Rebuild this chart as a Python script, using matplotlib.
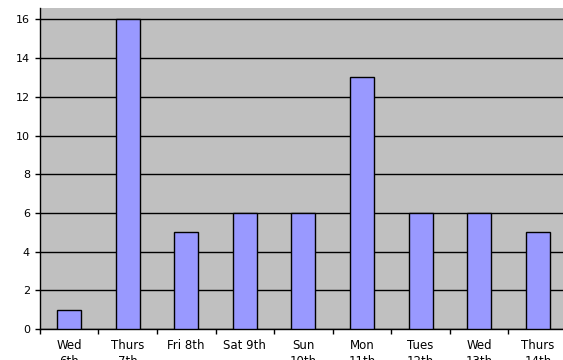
import matplotlib
matplotlib.use("Agg")
import matplotlib.pyplot as plt
import numpy as np

# daily counts
days = ["Wed\n6th", "Thurs\n7th", "Fri 8th", "Sat 9th", "Sun\n10th",
        "Mon\n11th", "Tues\n12th", "Wed\n13th", "Thurs\n14th"]
counts = [1, 16, 5, 6, 6, 13, 6, 6, 5]

plt.rcParams["font.family"] = ["DejaVu Sans"]

fig = plt.figure(figsize=(5.63, 3.6), dpi=100)
# plot area runs off the right edge of the canvas
ax = fig.add_axes([39.7 / 563, 31 / 360, (9 * 58.6) / 563, 321 / 360])
ax.set_facecolor("#C0C0C0")

x = np.arange(len(days))
ax.bar(x, counts, width=0.41, color="#9999FF", edgecolor="black", linewidth=1, zorder=3)

ax.set_xlim(-0.5, len(days) - 0.5)
ax.set_ylim(0, 16.59)
ax.set_yticks(range(0, 17, 2))
ax.yaxis.grid(True, color="black", linewidth=1, zorder=1)
ax.set_axisbelow(True)

# category labels sit between the boundary ticks
ax.set_xticks(x)
ax.set_xticklabels(days, fontsize=8.5, linespacing=1.3)
ax.tick_params(axis="x", length=0, pad=7.5)
ax.set_xticks(np.arange(-0.5, len(days), 1), minor=True)
ax.tick_params(axis="x", which="minor", length=3.5, width=1, direction="out")
ax.tick_params(axis="y", length=3.5, width=1, direction="out", labelsize=8, pad=3.5)

for side in ["top", "right"]:
    ax.spines[side].set_visible(False)
ax.spines["left"].set_linewidth(1)
ax.spines["bottom"].set_linewidth(1)

fig.savefig("out.png", dpi=100)
